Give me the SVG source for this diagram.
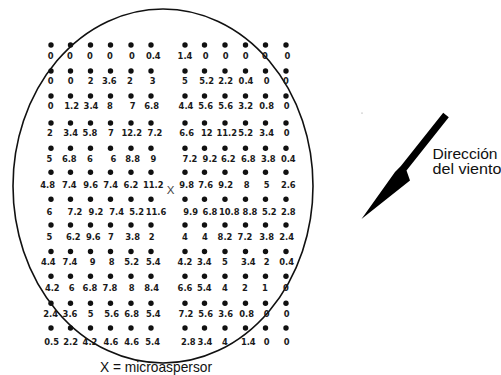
<svg xmlns="http://www.w3.org/2000/svg" width="501" height="375" viewBox="0 0 501 375">
<style>
.dot circle{fill:#111}
.lbl{font-family:"Liberation Sans Narrow","DejaVu Sans Condensed","Liberation Sans",Arial,sans-serif;font-weight:bold;font-size:9.3px;fill:#1a1a1a;text-anchor:middle}
.txt{font-family:"Liberation Sans",Arial,sans-serif;font-size:14.5px;fill:#111}
</style>
<rect width="501" height="375" fill="#fff"/>
<g id="plot-boundary">
<ellipse cx="163" cy="186" rx="150" ry="177" fill="none" stroke="#111" stroke-width="1.6"/>
</g>
<g id="catch-cans-left" class="dot">
<g transform="translate(0,45)"><circle cx="51" r="2.7"/><circle cx="70.5" r="2.7"/><circle cx="90.5" r="2.7"/><circle cx="110.5" r="2.7"/><circle cx="131" r="2.7"/><circle cx="151" r="2.7"/></g>
<g transform="translate(0,71)"><circle cx="51" r="2.7"/><circle cx="70.5" r="2.7"/><circle cx="90.5" r="2.7"/><circle cx="110.5" r="2.7"/><circle cx="131" r="2.7"/><circle cx="151" r="2.7"/></g>
<g transform="translate(0,96)"><circle cx="51" r="2.7"/><circle cx="70.5" r="2.7"/><circle cx="90.5" r="2.7"/><circle cx="110.5" r="2.7"/><circle cx="131" r="2.7"/><circle cx="151" r="2.7"/></g>
<g transform="translate(0,123)"><circle cx="51" r="2.7"/><circle cx="70.5" r="2.7"/><circle cx="90.5" r="2.7"/><circle cx="110.5" r="2.7"/><circle cx="131" r="2.7"/><circle cx="151" r="2.7"/></g>
<g transform="translate(0,148.3)"><circle cx="51" r="2.7"/><circle cx="70.5" r="2.7"/><circle cx="90.5" r="2.7"/><circle cx="110.5" r="2.7"/><circle cx="131" r="2.7"/><circle cx="151" r="2.7"/></g>
<g transform="translate(0,172.3)"><circle cx="51" r="2.7"/><circle cx="70.5" r="2.7"/><circle cx="90.5" r="2.7"/><circle cx="110.5" r="2.7"/><circle cx="131" r="2.7"/><circle cx="151" r="2.7"/></g>
<g transform="translate(0,199.3)"><circle cx="51" r="2.7"/><circle cx="70.5" r="2.7"/><circle cx="90.5" r="2.7"/><circle cx="110.5" r="2.7"/><circle cx="131" r="2.7"/><circle cx="151" r="2.7"/></g>
<g transform="translate(0,225)"><circle cx="51" r="2.7"/><circle cx="70.5" r="2.7"/><circle cx="90.5" r="2.7"/><circle cx="110.5" r="2.7"/><circle cx="131" r="2.7"/><circle cx="151" r="2.7"/></g>
<g transform="translate(0,251.5)"><circle cx="51" r="2.7"/><circle cx="70.5" r="2.7"/><circle cx="90.5" r="2.7"/><circle cx="110.5" r="2.7"/><circle cx="131" r="2.7"/><circle cx="151" r="2.7"/></g>
<g transform="translate(0,276.3)"><circle cx="51" r="2.7"/><circle cx="70.5" r="2.7"/><circle cx="90.5" r="2.7"/><circle cx="110.5" r="2.7"/><circle cx="131" r="2.7"/><circle cx="151" r="2.7"/></g>
<g transform="translate(0,303.3)"><circle cx="51" r="2.7"/><circle cx="70.5" r="2.7"/><circle cx="90.5" r="2.7"/><circle cx="110.5" r="2.7"/><circle cx="131" r="2.7"/><circle cx="151" r="2.7"/></g>
<g transform="translate(0,328)"><circle cx="51" r="2.7"/><circle cx="70.5" r="2.7"/><circle cx="90.5" r="2.7"/><circle cx="110.5" r="2.7"/><circle cx="131" r="2.7"/><circle cx="151" r="2.7"/></g>
</g>
<g id="catch-cans-right" class="dot">
<g transform="translate(0,45)"><circle cx="185" r="2.7"/><circle cx="204.5" r="2.7"/><circle cx="225" r="2.7"/><circle cx="245.5" r="2.7"/><circle cx="265.5" r="2.7"/><circle cx="286" r="2.7"/></g>
<g transform="translate(0,71)"><circle cx="185" r="2.7"/><circle cx="204.5" r="2.7"/><circle cx="225" r="2.7"/><circle cx="245.5" r="2.7"/><circle cx="265.5" r="2.7"/><circle cx="286" r="2.7"/></g>
<g transform="translate(0,96)"><circle cx="185" r="2.7"/><circle cx="204.5" r="2.7"/><circle cx="225" r="2.7"/><circle cx="245.5" r="2.7"/><circle cx="265.5" r="2.7"/><circle cx="286" r="2.7"/></g>
<g transform="translate(0,123)"><circle cx="185" r="2.7"/><circle cx="204.5" r="2.7"/><circle cx="225" r="2.7"/><circle cx="245.5" r="2.7"/><circle cx="265.5" r="2.7"/><circle cx="286" r="2.7"/></g>
<g transform="translate(0,148.3)"><circle cx="185" r="2.7"/><circle cx="204.5" r="2.7"/><circle cx="225" r="2.7"/><circle cx="245.5" r="2.7"/><circle cx="265.5" r="2.7"/><circle cx="286" r="2.7"/></g>
<g transform="translate(0,172.3)"><circle cx="185" r="2.7"/><circle cx="204.5" r="2.7"/><circle cx="225" r="2.7"/><circle cx="245.5" r="2.7"/><circle cx="265.5" r="2.7"/><circle cx="286" r="2.7"/></g>
<g transform="translate(0,199.3)"><circle cx="185" r="2.7"/><circle cx="204.5" r="2.7"/><circle cx="225" r="2.7"/><circle cx="245.5" r="2.7"/><circle cx="265.5" r="2.7"/><circle cx="286" r="2.7"/></g>
<g transform="translate(0,225)"><circle cx="185" r="2.7"/><circle cx="204.5" r="2.7"/><circle cx="225" r="2.7"/><circle cx="245.5" r="2.7"/><circle cx="265.5" r="2.7"/><circle cx="286" r="2.7"/></g>
<g transform="translate(0,251.5)"><circle cx="185" r="2.7"/><circle cx="204.5" r="2.7"/><circle cx="225" r="2.7"/><circle cx="245.5" r="2.7"/><circle cx="265.5" r="2.7"/><circle cx="286" r="2.7"/></g>
<g transform="translate(0,276.3)"><circle cx="185" r="2.7"/><circle cx="204.5" r="2.7"/><circle cx="225" r="2.7"/><circle cx="245.5" r="2.7"/><circle cx="265.5" r="2.7"/><circle cx="286" r="2.7"/></g>
<g transform="translate(0,303.3)"><circle cx="185" r="2.7"/><circle cx="204.5" r="2.7"/><circle cx="225" r="2.7"/><circle cx="245.5" r="2.7"/><circle cx="265.5" r="2.7"/><circle cx="286" r="2.7"/></g>
<g transform="translate(0,328)"><circle cx="185" r="2.7"/><circle cx="204.5" r="2.7"/><circle cx="225" r="2.7"/><circle cx="245.5" r="2.7"/><circle cx="265.5" r="2.7"/><circle cx="286" r="2.7"/></g>
</g>
<g id="values-left" class="lbl">
<text y="58.5"><tspan x="50.7">0</tspan><tspan x="70">0</tspan><tspan x="90">0</tspan><tspan x="110">0</tspan><tspan x="132">0</tspan><tspan x="153.3">0.4</tspan></text>
<text y="83.5"><tspan x="50.7">0</tspan><tspan x="70.7">0</tspan><tspan x="90.7">2</tspan><tspan x="109.3">3.6</tspan><tspan x="130">2</tspan><tspan x="152.7">3</tspan></text>
<text y="108.5"><tspan x="50.7">0</tspan><tspan x="71.7">1.2</tspan><tspan x="91">3.4</tspan><tspan x="110">8</tspan><tspan x="132.7">7</tspan><tspan x="151.7">6.8</tspan></text>
<text y="136"><tspan x="50">2</tspan><tspan x="70.7">3.4</tspan><tspan x="90">5.8</tspan><tspan x="111">7</tspan><tspan x="131.7">12.2</tspan><tspan x="155">7.2</tspan></text>
<text y="161.8"><tspan x="49.3">5</tspan><tspan x="69.3">6.8</tspan><tspan x="90">6</tspan><tspan x="113.3">6</tspan><tspan x="132.7">8.8</tspan><tspan x="153.3">9</tspan></text>
<text y="187.5"><tspan x="47.7">4.8</tspan><tspan x="69.3">7.4</tspan><tspan x="90.7">9.6</tspan><tspan x="110.7">7.4</tspan><tspan x="131">6.2</tspan><tspan x="153.3">11.2</tspan></text>
<text y="214.5"><tspan x="49.3">6</tspan><tspan x="75">7.2</tspan><tspan x="96">9.2</tspan><tspan x="116.7">7.4</tspan><tspan x="136.7">5.2</tspan><tspan x="156">11.6</tspan></text>
<text y="240"><tspan x="49.3">5</tspan><tspan x="73.3">6.2</tspan><tspan x="93.3">9.6</tspan><tspan x="111">7</tspan><tspan x="132.7">3.8</tspan><tspan x="151.7">2</tspan></text>
<text y="265"><tspan x="48.3">4.4</tspan><tspan x="70">7.4</tspan><tspan x="92.7">9</tspan><tspan x="111.7">8</tspan><tspan x="131.7">5.2</tspan><tspan x="153.3">5.4</tspan></text>
<text y="291"><tspan x="52.3">4.2</tspan><tspan x="71.7">6</tspan><tspan x="90">6.8</tspan><tspan x="110">7.8</tspan><tspan x="131.7">8</tspan><tspan x="151.7">8.4</tspan></text>
<text y="316.8"><tspan x="50.7">2.4</tspan><tspan x="70">3.6</tspan><tspan x="90.7">5</tspan><tspan x="111.7">5.6</tspan><tspan x="131.7">6.8</tspan><tspan x="153.3">5.4</tspan></text>
<text y="345.3"><tspan x="51.7">0.5</tspan><tspan x="70.7">2.2</tspan><tspan x="90">4.2</tspan><tspan x="111">4.6</tspan><tspan x="131.7">4.6</tspan><tspan x="152.7">5.4</tspan></text>
</g>
<g id="values-right" class="lbl">
<text y="58.5"><tspan x="185">1.4</tspan><tspan x="205.7">0</tspan><tspan x="225.7">0</tspan><tspan x="245.7">0</tspan><tspan x="265">0</tspan><tspan x="287.3">0</tspan></text>
<text y="83.5"><tspan x="185">5</tspan><tspan x="206.7">5.2</tspan><tspan x="225.7">2.2</tspan><tspan x="246">0.4</tspan><tspan x="266.7">0</tspan><tspan x="286">0</tspan></text>
<text y="108.5"><tspan x="186">4.4</tspan><tspan x="205.7">5.6</tspan><tspan x="225.7">5.6</tspan><tspan x="245.7">3.2</tspan><tspan x="266.7">0.8</tspan><tspan x="286.7">0</tspan></text>
<text y="136"><tspan x="186.7">6.6</tspan><tspan x="206.7">12</tspan><tspan x="226.7">11.2</tspan><tspan x="245.7">5.2</tspan><tspan x="266.7">3.4</tspan><tspan x="286.7">0</tspan></text>
<text y="161.8"><tspan x="190">7.2</tspan><tspan x="210">9.2</tspan><tspan x="228.3">6.2</tspan><tspan x="248.3">6.8</tspan><tspan x="268.3">3.8</tspan><tspan x="288.3">0.4</tspan></text>
<text y="187.5"><tspan x="186.7">9.8</tspan><tspan x="205.7">7.6</tspan><tspan x="225.7">9.2</tspan><tspan x="246.7">8</tspan><tspan x="266.7">5</tspan><tspan x="288.3">2.6</tspan></text>
<text y="214.5"><tspan x="190.7">9.9</tspan><tspan x="210">6.8</tspan><tspan x="229.3">10.8</tspan><tspan x="250">8.8</tspan><tspan x="269.3">5.2</tspan><tspan x="288.3">2.8</tspan></text>
<text y="240"><tspan x="185">4</tspan><tspan x="205">4</tspan><tspan x="225">8.2</tspan><tspan x="245">7.2</tspan><tspan x="266.7">3.8</tspan><tspan x="286.7">2.4</tspan></text>
<text y="265"><tspan x="185">4.2</tspan><tspan x="204.3">3.4</tspan><tspan x="225">5</tspan><tspan x="248.3">3.4</tspan><tspan x="266.7">2</tspan><tspan x="286.7">0.4</tspan></text>
<text y="291"><tspan x="185">6.6</tspan><tspan x="204.3">5.4</tspan><tspan x="225">4</tspan><tspan x="245">2</tspan><tspan x="265">1</tspan><tspan x="286">0</tspan></text>
<text y="316.8"><tspan x="186">7.2</tspan><tspan x="205.7">5.6</tspan><tspan x="225.7">3.6</tspan><tspan x="246.7">0.8</tspan><tspan x="266.7">0</tspan><tspan x="286.7">0</tspan></text>
<text y="345.3"><tspan x="188.3">2.8</tspan><tspan x="205">3.4</tspan><tspan x="225">4</tspan><tspan x="248.3">1.4</tspan><tspan x="266.7">0</tspan><tspan x="286.7">0</tspan></text>
</g>
<g id="sprinkler">
<text x="170.5" y="193.5" font-family="Liberation Sans, Arial, sans-serif" font-size="11.5" fill="#444" text-anchor="middle">X</text>
</g>
<g id="legend">
<text class="txt" x="100" y="371.5" textLength="112" lengthAdjust="spacingAndGlyphs">X = microaspersor</text>
</g>
<g id="wind-direction">
<circle cx="362" cy="113" r="0.6" fill="#888"/>
<polygon points="443.2,112.7 448.8,117.3 406.5,170.5 410,180.5 361.5,219 395,172 400.9,165.9" fill="#000"/>
<text class="txt" x="432.5" y="158.5" textLength="65" lengthAdjust="spacingAndGlyphs">Dirección</text>
<text class="txt" x="432.5" y="173.5" textLength="69" lengthAdjust="spacingAndGlyphs">del viento</text>
</g>
</svg>
